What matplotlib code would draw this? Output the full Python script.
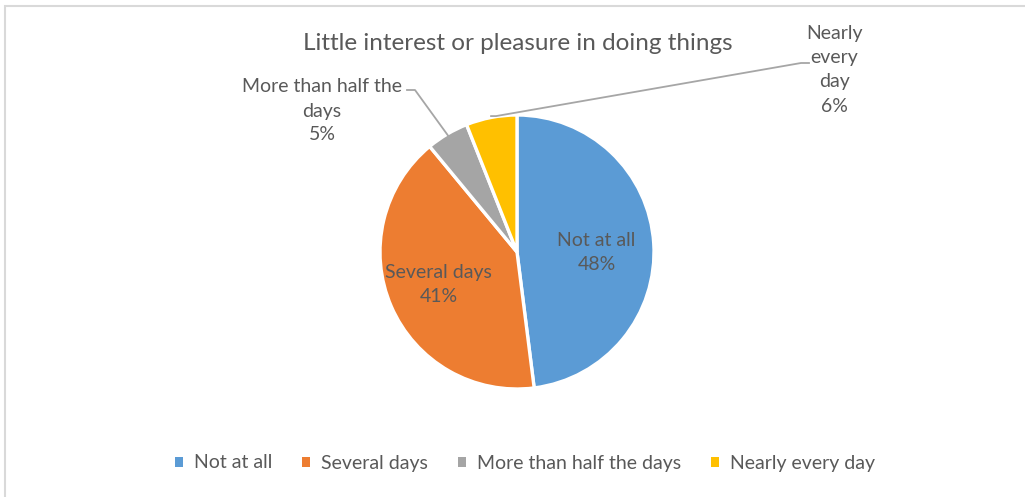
import numpy as np
import matplotlib
matplotlib.use("Agg")
import matplotlib.pyplot as plt
from matplotlib.patches import Rectangle, Patch

categories = ["Not at all", "Several days", "More than half the days", "Nearly every day"]
values = [48, 41, 5, 6]
colors = ["#5B9BD5", "#ED7D31", "#A5A5A5", "#FFC000"]
title = "Little interest or pleasure in doing things"
TXT = "#595959"

plt.rcParams["font.family"] = ["Lato", "DejaVu Sans"]

W, H = 1025, 497
fig = plt.figure(figsize=(W / 100, H / 100), dpi=100)

# chart border (light gray, cut at right/bottom edges)
fig.patches.append(Rectangle((5 / W, -0.01), 1.02, 1 - 6 / H + 0.01, transform=fig.transFigure,
                             fill=False, ec="#D9D9D9", lw=1.5))

cx, cy, r = 517, 252, 137
ax = fig.add_axes([(cx - r) / W, (H - cy - r) / H, 2 * r / W, 2 * r / H])
wedges, _ = ax.pie(values, colors=colors, startangle=90, counterclock=False, radius=1,
                   wedgeprops=dict(edgecolor="white", linewidth=2.4))
ax.set_xlim(-1, 1); ax.set_ylim(-1, 1); ax.axis("off")

fig.text(518 / W, 1 - 44 / H, title, ha="center", va="center", fontsize=17.5, color=TXT)

pct = [f"{v / sum(values) * 100:.0f}%" for v in values]
FS = 14
# inside labels for the two big slices
ax.text(0.58, 0.0, f"{categories[0]}\n{pct[0]}", ha="center", va="center", fontsize=FS,
        color=TXT, linespacing=1.5)
ax.text(-0.57, -0.24, f"Several days\n{pct[1]}", ha="center", va="center", fontsize=FS,
        color=TXT, linespacing=1.5)


def edge_point(w, frac=1.0):
    ang = np.deg2rad((w.theta1 + w.theta2) / 2)
    return frac * np.cos(ang), frac * np.sin(ang)


def to_fig(px, py):
    return px / W, 1 - py / H


# outside labels with leader lines
tx, ty = to_fig(322, 111)
fig.text(tx, ty, f"More than half the\ndays\n{pct[2]}", ha="center", va="center", fontsize=FS,
         color=TXT, linespacing=1.5)
x0, y0 = edge_point(wedges[2], 0.98)
p = fig.transFigure.inverted().transform(ax.transData.transform((x0, y0)))
fig.lines.append(plt.Line2D([407 / W, 415 / W, p[0]], [1 - 90 / H, 1 - 90 / H, p[1]],
                            transform=fig.transFigure, color="#A6A6A6", lw=1.3))

tx, ty = to_fig(834, 70)
fig.text(tx, ty, f"Nearly\nevery\nday\n{pct[3]}", ha="center", va="center", fontsize=FS,
         color=TXT, linespacing=1.5)
x0, y0 = edge_point(wedges[3], 1.01)
p = fig.transFigure.inverted().transform(ax.transData.transform((x0, y0)))
fig.lines.append(plt.Line2D([809 / W, 801 / W, p[0] + 5 / W, p[0]],
                            [1 - 63 / H, 1 - 63 / H, p[1], p[1]],
                            transform=fig.transFigure, color="#A6A6A6", lw=1.3))

handles = [Patch(facecolor=c, edgecolor="none") for c in colors]
fig.legend(handles, categories, loc="center", bbox_to_anchor=(0.512, 1 - 463 / H), ncol=4,
           frameon=False, fontsize=FS, labelcolor=TXT, handlelength=0.42, handleheight=0.42,
           handletextpad=0.55, columnspacing=1.55)

fig.savefig("out.png", dpi=100)
